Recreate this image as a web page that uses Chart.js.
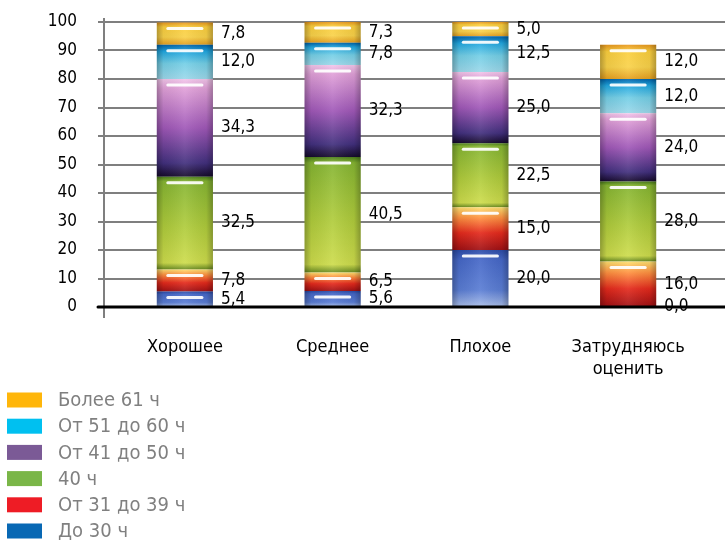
<!DOCTYPE html>
<html lang="ru">
<head>
<meta charset="utf-8">
<title>Продолжительность рабочей недели</title>
<script src="https://cdn.jsdelivr.net/npm/chart.js@4.4.1/dist/chart.umd.min.js"></script>
<style>
  html, body { margin: 0; padding: 0; background: #fff; }
  #wrap { width: 725px; height: 540px; position: relative; }
</style>
</head>
<body>
<div id="wrap"><canvas id="hoursChart" width="725" height="540"></canvas></div>
<script>
// categories and series values (percent)
const categories = ['Хорошее', 'Среднее', 'Плохое', ['Затрудняюсь', 'оценить']];
const upTo30 = [5.4, 5.6, 20.0, 0.0];
const from31to39 = [7.8, 6.5, 15.0, 16.0];
const exactly40 = [32.5, 40.5, 22.5, 28.0];
const from41to50 = [34.3, 32.3, 25.0, 24.0];
const from51to60 = [12.0, 7.8, 12.5, 12.0];
const over61 = [7.8, 7.3, 5.0, 12.0];
const yTicks = [0, 10, 20, 30, 40, 50, 60, 70, 80, 90, 100];

const FONT = '"DejaVu Sans Condensed", "DejaVu Sans", sans-serif';

// legend swatch colour + glossy gradient stops (top -> bottom) per series
const series = [
    { label: 'До 30 ч', data: upTo30, swatch: '#0868b4',
      stops: [[0, '#2c4ca8'], [0.18, '#4668c8'], [0.7, '#5a7dd4'], [1, '#a9bde8']] },
    { label: 'От 31 до 39 ч', data: from31to39, swatch: '#ee1c25',
      stops: [[0, '#ffe070'], [0.25, '#ff9040'], [0.6, '#e42a1c'], [1, '#a01014']] },
    { label: '40 ч', data: exactly40, swatch: '#7ab648',
      stops: [[0, '#4d7f1c'], [0.05, '#86b532'], [0.55, '#b0cc3c'], [0.93, '#cddc4c'], [1, '#6a8c22']] },
    { label: 'От 41 до 50 ч', data: from41to50, swatch: '#7b5a96',
      stops: [[0, '#f2c6ea'], [0.1, '#e0a0d8'], [0.5, '#a058b8'], [0.86, '#42307e'], [1, '#160a2c']] },
    { label: 'От 51 до 60 ч', data: from51to60, swatch: '#00c0f0',
      stops: [[0, '#0064ac'], [0.2, '#22a8e0'], [0.55, '#74cfe6'], [1, '#9cd8ea']] },
    { label: 'Более 61 ч', data: over61, swatch: '#ffb60a',
      stops: [[0, '#e8981e'], [0.2, '#fbcf3e'], [0.65, '#f9d24a'], [1, '#e6a020']] }
];

const fmt = v => v.toFixed(1).replace('.', ',');

// vertical gradient for one stacked segment, built from the stack values
function segmentFill(s, di) {
    return function (ctx) {
        const chart = ctx.chart;
        if (!chart.chartArea || ctx.type !== 'data') return s.swatch;
        const j = ctx.dataIndex;
        let base = 0;
        for (let k = 0; k < di; k++) base += series[k].data[j];
        const y = chart.scales.y;
        const top = y.getPixelForValue(base + s.data[j]);
        const bottom = y.getPixelForValue(base);
        if (bottom - top < 1) return s.swatch;
        const g = chart.ctx.createLinearGradient(0, top, 0, bottom);
        s.stops.forEach(st => g.addColorStop(st[0], st[1]));
        return g;
    };
}

// horizontal grid, axis line, gloss, value labels and legend
const gridPlugin = {
    id: 'excelGrid',
    beforeDatasetsDraw(chart) {
        const { ctx, chartArea, scales: { y } } = chart;
        const axisX = chartArea.left - 7;
        ctx.save();
        ctx.strokeStyle = '#7f7f7f';
        ctx.lineWidth = 2;
        yTicks.forEach(v => {
            if (v === 0) return;
            const py = Math.round(y.getPixelForValue(v));
            ctx.beginPath();
            ctx.moveTo(axisX - 6, py);
            ctx.lineTo(chart.width, py);
            ctx.stroke();
        });
        ctx.beginPath();
        ctx.moveTo(axisX, y.getPixelForValue(100) - 4);
        ctx.lineTo(axisX, y.getPixelForValue(0) + 11);
        ctx.stroke();
        ctx.restore();
    },
    afterDatasetsDraw(chart) {
        const { ctx } = chart;
        ctx.save();
        chart.data.datasets.forEach((ds, i) => {
            chart.getDatasetMeta(i).data.forEach(el => {
                const p = el.getProps(['x', 'y', 'base', 'width'], true);
                const h = p.base - p.y;
                if (h < 2) return;
                const left = p.x - p.width / 2;
                const sh = ctx.createLinearGradient(left, 0, left + p.width, 0);
                sh.addColorStop(0, 'rgba(0,0,0,0.28)');
                sh.addColorStop(0.12, 'rgba(0,0,0,0.06)');
                sh.addColorStop(0.5, 'rgba(255,255,255,0.08)');
                sh.addColorStop(0.88, 'rgba(0,0,0,0.06)');
                sh.addColorStop(1, 'rgba(0,0,0,0.28)');
                ctx.fillStyle = sh;
                ctx.fillRect(left, p.y, p.width, h);
                if (h > 8) {
                    ctx.strokeStyle = 'rgba(255,255,255,0.92)';
                    ctx.lineWidth = 3;
                    ctx.lineCap = 'round';
                    ctx.beginPath();
                    ctx.moveTo(left + 11, p.y + 6);
                    ctx.lineTo(left + p.width - 11, p.y + 6);
                    ctx.stroke();
                }
            });
        });
        // value labels right of each bar
        ctx.fillStyle = '#000';
        ctx.font = '17px ' + FONT;
        ctx.textAlign = 'left';
        ctx.textBaseline = 'middle';
        chart.data.datasets.forEach((ds, i) => {
            chart.getDatasetMeta(i).data.forEach((el, j) => {
                const p = el.getProps(['x', 'y', 'base', 'width'], true);
                ctx.fillText(fmt(ds.data[j]), p.x + p.width / 2 + 8, (p.y + p.base) / 2);
            });
        });
        // zero line on top
        const y0 = Math.round(chart.scales.y.getPixelForValue(0));
        ctx.strokeStyle = '#000';
        ctx.lineWidth = 3;
        ctx.beginPath();
        ctx.moveTo(chart.chartArea.left - 13, y0);
        ctx.lineTo(chart.width, y0);
        ctx.stroke();
        ctx.restore();
    },
    afterDraw(chart) {
        // vertical legend, last series first
        const { ctx } = chart;
        ctx.save();
        ctx.font = '20px ' + FONT;
        ctx.textAlign = 'left';
        ctx.textBaseline = 'middle';
        const items = chart.data.datasets.slice().reverse();
        items.forEach((ds, k) => {
            const cy = 400 + k * 26.2;
            ctx.fillStyle = ds.swatch;
            ctx.fillRect(7, cy - 7.5, 35, 15);
            ctx.fillStyle = '#808080';
            ctx.fillText(ds.label, 58, cy + 1);
        });
        ctx.restore();
    }
};

new Chart(document.getElementById('hoursChart'), {
    type: 'bar',
    data: {
        labels: categories,
        datasets: series.map((s, i) => ({
            label: s.label,
            data: s.data,
            swatch: s.swatch,
            backgroundColor: segmentFill(s, i),
            borderWidth: 0,
            barPercentage: 0.38,
            categoryPercentage: 1
        }))
    },
    options: {
        responsive: false,
        animation: false,
        events: [],
        layout: { padding: { top: 22, right: 23, left: 0, bottom: 0 } },
        plugins: {
            legend: { display: false },
            tooltip: { enabled: false }
        },
        scales: {
            x: {
                stacked: true,
                grid: { display: false, drawTicks: false },
                border: { display: false },
                ticks: {
                    color: '#000',
                    padding: 29,
                    font: { family: FONT, size: 18, lineHeight: 1.25 }
                },
                afterFit(scale) {
                    scale.height = 233;
                    scale.paddingLeft = 0;
                    scale.paddingRight = 0;
                    scale.paddingTop = 0;
                    scale.paddingBottom = 0;
                }
            },
            y: {
                stacked: true,
                min: 0,
                max: 100,
                grid: { display: false, drawTicks: false },
                border: { display: false },
                ticks: {
                    stepSize: 10,
                    color: '#000',
                    padding: 34,
                    font: { family: FONT, size: 17 }
                },
                afterFit(scale) {
                    scale.width = 111;
                    scale.paddingTop = 0;
                    scale.paddingBottom = 0;
                }
            }
        }
    },
    plugins: [gridPlugin]
});
</script>
</body>
</html>
